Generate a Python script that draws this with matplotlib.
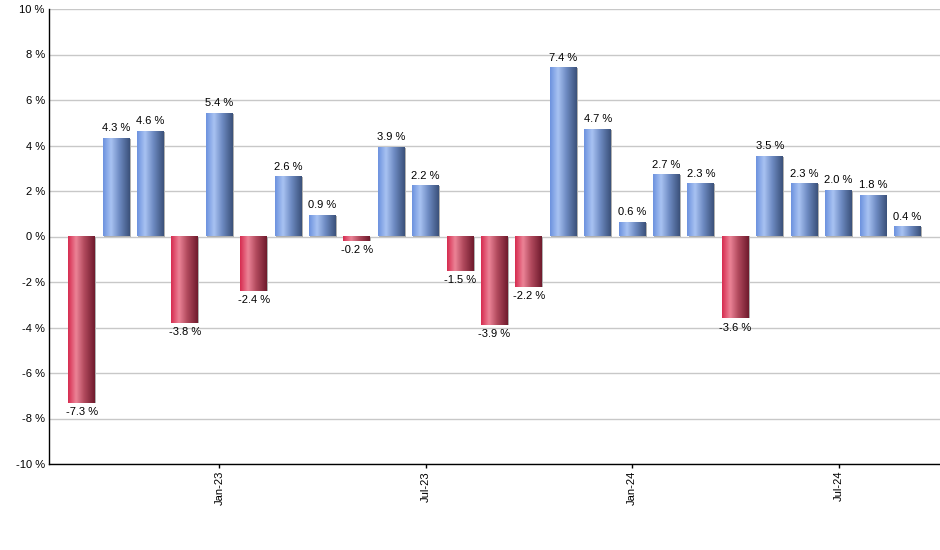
import matplotlib
matplotlib.use("Agg")
import matplotlib.pyplot as plt
import numpy as np
from matplotlib.colors import LinearSegmentedColormap

plt.rcParams['font.family'] = ['Liberation Sans', 'DejaVu Sans']

months = ["Sep-22", "Oct-22", "Nov-22", "Dec-22", "Jan-23", "Feb-23", "Mar-23", "Apr-23",
          "May-23", "Jun-23", "Jul-23", "Aug-23", "Sep-23", "Oct-23", "Nov-23", "Dec-23",
          "Jan-24", "Feb-24", "Mar-24", "Apr-24", "May-24", "Jun-24", "Jul-24", "Aug-24", "Sep-24"]
returns = [-7.3, 4.3, 4.6, -3.8, 5.4, -2.4, 2.6, 0.9, -0.2, 3.9, 2.2, -1.5, -3.9, -2.2,
           7.4, 4.7, 0.6, 2.7, 2.3, -3.6, 3.5, 2.3, 2.0, 1.8, 0.4]
tick_labels = ["Jan-23", "Jul-23", "Jan-24", "Jul-24"]
y_ticks = [-10, -8, -6, -4, -2, 0, 2, 4, 6, 8, 10]

blue_cmap = LinearSegmentedColormap.from_list(
    "b", [(0, "#6b91de"), (0.3, "#a9c3f2"), (0.6, "#6f8cc4"), (1, "#3a5079")])
red_cmap = LinearSegmentedColormap.from_list(
    "r", [(0, "#d62a4e"), (0.3, "#ec8497"), (0.6, "#b24a5e"), (1, "#6e1a2c")])

fig = plt.figure(figsize=(9.4, 5.5), dpi=100)
ax = fig.add_axes([49/940, 1 - 464/550, (940 - 49)/940, (464 - 9)/550])

x = np.arange(len(returns))
width = 0.78
bars = ax.bar(x, returns, width=width, color="none", zorder=3)

grad = np.linspace(0, 1, 256).reshape(1, -1)
for b, v in zip(bars, returns):
    x0 = b.get_x()
    w = b.get_width()
    y0, y1 = sorted([0, v])
    # shadow
    ax.add_patch(plt.Rectangle((x0 + 0.03, y0), w, y1 - y0, color="#b0b0b0", zorder=2.5, lw=0))
    cmap = blue_cmap if v >= 0 else red_cmap
    im = ax.imshow(grad, cmap=cmap, aspect="auto", extent=(x0, x0 + w, y0, y1),
                   zorder=3, interpolation="bicubic")
    if v >= 0:
        ax.annotate(f"{v:.1f} %", (b.get_x() + w / 2, v), xytext=(0, 4),
                    textcoords="offset points", ha="center", va="bottom", fontsize=8)
    else:
        ax.annotate(f"{v:.1f} %", (b.get_x() + w / 2, v), xytext=(0, -3),
                    textcoords="offset points", ha="center", va="top", fontsize=8)

ax.set_xlim(-0.95, 24.95)
ax.set_ylim(-10, 10)
ax.set_yticks(y_ticks)
ax.set_yticklabels([f"{t} %" for t in y_ticks], fontsize=8)
ax.tick_params(axis="y", length=0, pad=3)
pos = [months.index(t) for t in tick_labels]
ax.set_xticks(pos)
ax.set_xticklabels(tick_labels, rotation=90, fontsize=8)
ax.tick_params(axis="x", length=3, width=1, color="black", pad=2)
ax.yaxis.grid(True, color="#c8c8c8", lw=1, zorder=0)
ax.set_axisbelow(True)
for s in ["top", "right"]:
    ax.spines[s].set_visible(False)
for s in ["left", "bottom"]:
    ax.spines[s].set_color("black")
    ax.spines[s].set_linewidth(1)

fig.savefig("out.png", dpi=100)
